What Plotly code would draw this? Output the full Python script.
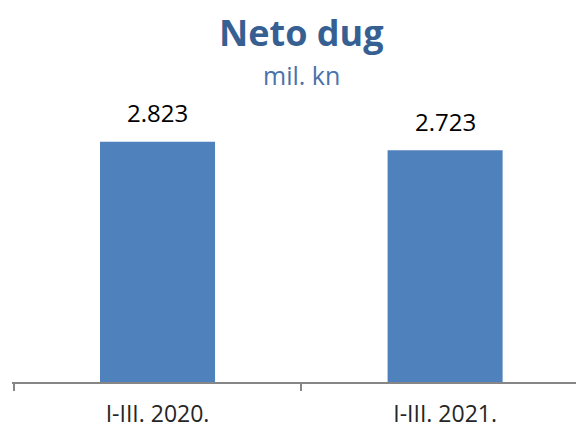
import plotly.graph_objects as go

categories = ["I-III. 2020.", "I-III. 2021."]
values = [2823, 2723]
title_text = "Neto dug"
subtitle_text = "mil. kn"

FONT = "Open Sans, Lato, sans-serif"
BAR_COLOR = "#4f81bd"
TITLE_COLOR = "#376092"

# page body has an 8px margin; the figure is sized so that it fills the window
W, H = 576, 420
AXIS_Y = 374          # axis line position inside the figure
H_PLOT = 298

fig = go.Figure()
fig.add_trace(go.Bar(
    x=categories,
    y=values,
    marker=dict(color=BAR_COLOR, line=dict(width=0)),
    hoverinfo="skip",
))

annotations = []
for c, v in zip(categories, values):
    annotations.append(dict(
        x=c, y=v, xref="x", yref="y",
        text=f"{v:,}".replace(",", "."),
        showarrow=False, yanchor="middle", yshift=29,
        font=dict(family=FONT, size=24, color="#000000"),
    ))

annotations.append(dict(
    x=0.5, xref="paper", y=(AXIS_Y - 24) / H_PLOT, yref="paper",
    text=f"<b>{title_text}</b>", showarrow=False, yanchor="middle",
    xshift=3,
    font=dict(family=FONT, size=36, color=TITLE_COLOR),
))
annotations.append(dict(
    x=0.5, xref="paper", y=(AXIS_Y - 67) / H_PLOT, yref="paper",
    text=subtitle_text, showarrow=False, yanchor="middle",
    xshift=3,
    font=dict(family=FONT, size=25, color="#4a72a8"),
))

fig.update_layout(
    template="none",
    width=W, height=H,
    margin=dict(l=4, r=0, t=H - (H - AXIS_Y) - H_PLOT, b=H - AXIS_Y),
    paper_bgcolor="white", plot_bgcolor="white",
    bargap=0.6,
    showlegend=False,
    separators=",.",
    annotations=annotations,
    xaxis=dict(
        type="category",
        automargin=False,
        range=[-0.506, 1.483],
        showline=True, linecolor="#868686", linewidth=2,
        ticks="outside", tickson="boundaries", ticklen=7, tickwidth=2,
        tickcolor="#868686",
        tickfont=dict(family=FONT, size=23, color="#262626"),
        ticklabelstandoff=10,
        showgrid=False, zeroline=False, fixedrange=True,
    ),
    yaxis=dict(
        automargin=False,
        range=[0, 3500],
        visible=False, showgrid=False, zeroline=False, fixedrange=True,
    ),
)

fig.write_html("out.html", config={"displayModeBar": False})
